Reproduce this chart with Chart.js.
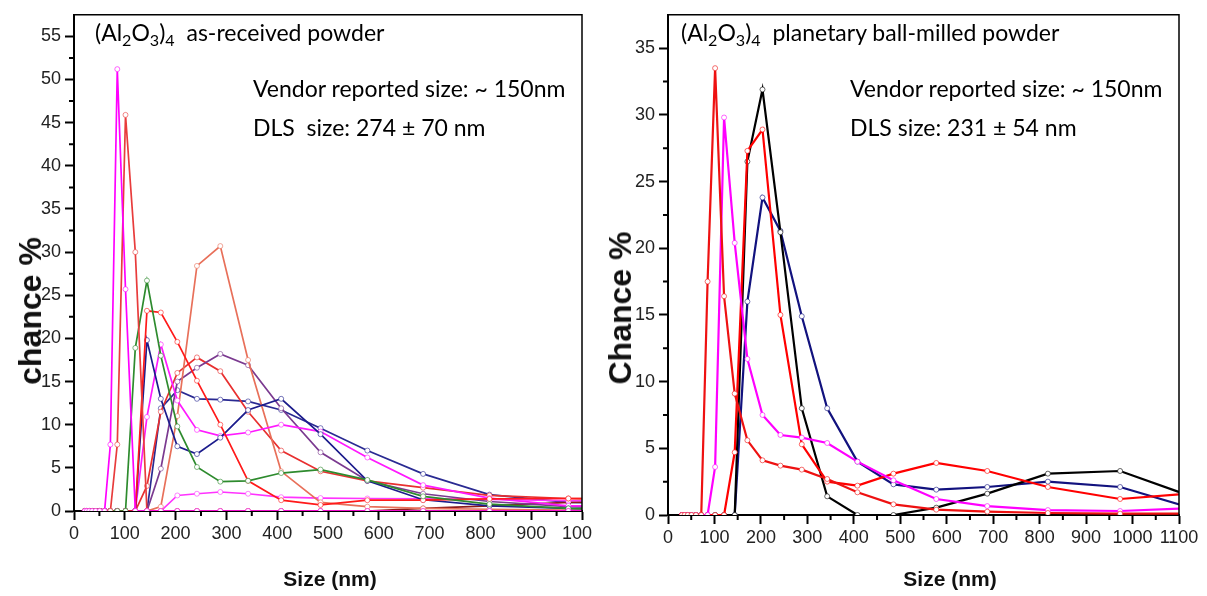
<!DOCTYPE html>
<html>
<head>
<meta charset="utf-8">
<title>DLS size distributions</title>
<script src="https://cdn.jsdelivr.net/npm/chart.js@4.4.1/dist/chart.umd.min.js"></script>
<style>
    body { margin: 0; background: #fff; width: 1207px; height: 596px; position: relative; overflow: hidden; }
    .panel { position: absolute; top: 0; height: 596px; overflow: hidden; }
    .panel > div { position: absolute; left: 0; top: 0; height: 596px; }
    #leftPanel { left: 0; width: 592px; }
    #leftPanel > div { width: 614px; }
    #rightPanel { left: 600px; width: 607px; }
    #rightPanel > div { width: 607px; }
    .note { position: absolute; font-family: Lato, "Open Sans", sans-serif; font-size: 23px; line-height: 26px; color: #000; white-space: pre; }
    .note sub { font-size: 0.7em; vertical-align: -0.3em; line-height: 0; }
    .axis-title { position: absolute; font-family: "Liberation Sans", Arial, sans-serif; font-weight: bold; color: #111; white-space: pre; line-height: 1; }
    .ytitle { font-size: 32px; transform: translate(-50%, -50%) rotate(-90deg); }
    .xtitle { font-size: 21px; transform: translate(-50%, -50%); }
</style>
</head>
<body>
<div class="panel" id="leftPanel"><div><canvas id="leftChart"></canvas></div></div>
<div class="panel" id="rightPanel"><div><canvas id="rightChart"></canvas></div></div>

<div class="note" style="left:95px; top:19px;">(Al<sub>2</sub>O<sub>3</sub>)<sub>4</sub>  as-received powder</div>
<div class="note" style="left:253px; top:75px;">Vendor reported size: ~ 150nm</div>
<div class="note" style="left:253px; top:114px;">DLS  size: 274 ± 70 nm</div>

<div class="note" style="left:681px; top:19px;">(Al<sub>2</sub>O<sub>3</sub>)<sub>4</sub>  planetary ball-milled powder</div>
<div class="note" style="left:850px; top:75px;">Vendor reported size: ~ 150nm</div>
<div class="note" style="left:850px; top:114px;">DLS size: 231 ± 54 nm</div>

<div class="axis-title ytitle" style="left:30px; top:311px;">chance %</div>
<div class="axis-title xtitle" style="left:330px; top:578px;">Size (nm)</div>
<div class="axis-title ytitle" style="left:620px; top:308px;">Chance %</div>
<div class="axis-title xtitle" style="left:950px; top:578px;">Size (nm)</div>

<script>
// Size bins (nm) shared by both DLS measurements
const sizeBins = [21.2, 25.2, 30, 35.7, 42.5, 50.6, 60.2, 71.6, 85.2, 101.4, 120.7, 143.6,
    170.9, 203.4, 242, 288, 342.7, 407.8, 485.3, 577.5, 687.2, 817.8, 973.2, 1158];

// As-received powder, chance % per bin (one array per run)
const recvMagentaTall = [0, 0, 0, 0, 0, 0, 0, 7.7, 51.2, 25.7, 0, 0, 0, 0, 0, 0, 0, 0, 0, 0, 0, 0, 0, 0];
const recvRedTall     = [0, 0, 0, 0, 0, 0, 0, 0, 7.7, 45.9, 30.0, 0, 0, 0, 0, 0, 0, 0, 0, 0, 0, 0, 0, 0];
const recvGreen       = [0, 0, 0, 0, 0, 0, 0, 0, 0, 0, 18.9, 26.7, 18, 9.8, 5.1, 3.4, 3.5, 4.4, 4.8, 3.6, 1.7, 0.8, 0.3, 0.2];
const recvRedFlat     = [0, 0, 0, 0, 0, 0, 0, 0, 0, 0, 0, 23.2, 23.0, 19.6, 15.1, 10.0, 3.5, 1.25, 0.7, 1.25, 1.25, 1.4, 1.45, 1.3];
const recvNavyDip     = [0, 0, 0, 0, 0, 0, 0, 0, 0, 0, 0, 19.8, 13.0, 7.5, 6.6, 8.5, 11.7, 13.0, 8.9, 3.5, 1.3, 0.6, 0.3, 0.2];
const recvMagenta     = [0, 0, 0, 0, 0, 0, 0, 0, 0, 0, 0, 10.9, 19.3, 12.8, 9.4, 8.7, 9.1, 10.0, 9.2, 6.2, 3.0, 1.5, 0.6, 0.5];
const recvSalmon      = [0, 0, 0, 0, 0, 0, 0, 0, 0, 0, 0, 0, 0.5, 11, 28.4, 30.7, 17.5, 4.6, 1.0, 0.5, 0.3, 0.2, 0.1, 0.1];
const recvPurple      = [0, 0, 0, 0, 0, 0, 0, 0, 0, 0, 0, 0, 4.9, 15.0, 16.6, 18.2, 16.9, 11.9, 6.8, 3.5, 2.0, 1.1, 0.5, 0.4];
const recvRedHump     = [0, 0, 0, 0, 0, 0, 0, 0, 0, 0, 0, 2.9, 11.5, 16.0, 17.8, 16.2, 11.5, 7.0, 4.6, 3.5, 2.7, 1.8, 1.45, 1.3];
const recvMagentaLow  = [0, 0, 0, 0, 0, 0, 0, 0, 0, 0, 0, 0, 0, 1.8, 2.0, 2.2, 2.0, 1.6, 1.5, 1.45, 1.4, 1.35, 1.2, 1.1];
const recvDarkRed     = [0, 0, 0, 0, 0, 0, 0, 0, 0, 0, 0, 0, 0, 0, 0, 0, 0, 0, 0, 0, 0.3, 0.6, 1.0, 1.2];
const recvNavyFlat    = [0, 0, 0, 0, 0, 0, 0, 0, 0, 0, 0, 0, 11.9, 14.0, 13.0, 12.9, 12.7, 11.7, 9.6, 7.0, 4.3, 1.9, 1.0, 0.8];

// Planetary ball-milled powder, chance % per bin
const millRed     = [null, null, 0, 0, 0, 0, 0, 0, 17.5, 33.5, 16.4, 9.1, 5.6, 4.1, 3.7, 3.4, 2.7, 1.7, 0.8, 0.4, 0.25, 0.15, 0.1, 0.1];
const millMagenta = [null, null, 0, 0, 0, 0, 0, 0, 0, 3.6, 29.8, 20.4, 11.7, 7.5, 6.0, 5.8, 5.4, 4.0, 2.6, 1.2, 0.67, 0.37, 0.3, 0.55];
const millRed2    = [null, null, 0, 0, 0, 0, 0, 0, 0, 0, 0, 4.7, 27.3, 28.9, 15.0, 5.3, 2.5, 2.2, 3.1, 3.9, 3.3, 2.1, 1.2, 1.7];
const millBlack   = [null, null, 0, 0, 0, 0, 0, 0, 0, 0, 0, 0, 26.5, 31.9, 21.2, 8.0, 1.4, 0, 0, 0.55, 1.6, 3.1, 3.3, 1.0];
const millNavy    = [null, null, 0, 0, 0, 0, 0, 0, 0, 0, 0, 0, 16.0, 23.8, 21.3, 14.9, 8.0, 4.0, 2.3, 1.9, 2.1, 2.5, 2.1, 0.2];

// Axis tick values
const leftXTicks = [0, 100, 200, 300, 400, 500, 600, 700, 800, 900, 1000];
const leftYTicks = [0, 5, 10, 15, 20, 25, 30, 35, 40, 45, 50, 55];
const rightXTicks = [0, 100, 200, 300, 400, 500, 600, 700, 800, 900, 1000, 1100];
const rightYTicks = [0, 5, 10, 15, 20, 25, 30, 35];

const tickFont = { family: "'Liberation Sans', Arial, sans-serif", size: 18 };

// Build a line dataset from one series
function makeSeries(values, color, width) {
    return {
        data: values.map((v, i) => ({ x: sizeBins[i], y: v })),
        borderColor: color,
        borderWidth: width,
        pointRadius: 2.5,
        pointBorderWidth: 1,
        pointBackgroundColor: '#ffffff',
        pointBorderColor: color + '99',
        tension: 0
    };
}

// Draw the top/right frame and the minor ticks
const framePlugin = {
    id: 'frame',
    afterDraw(chart, args, opts) {
        const ctx = chart.ctx;
        const a = chart.chartArea;
        const xs = chart.scales.x;
        const ys = chart.scales.y;
        ctx.save();
        ctx.strokeStyle = '#000';
        ctx.lineWidth = 1.5;
        ctx.beginPath();
        ctx.moveTo(a.left, a.top);
        ctx.lineTo(a.right, a.top);
        ctx.lineTo(a.right, a.bottom);
        ctx.stroke();
        ctx.lineWidth = 2;
        ctx.beginPath();
        for (let v = opts.xStep / 2; v < xs.max; v += opts.xStep) {
            const px = xs.getPixelForValue(v);
            ctx.moveTo(px, a.bottom);
            ctx.lineTo(px, a.bottom + 5);
        }
        for (let v = opts.yStep / 2; v < ys.max; v += opts.yStep) {
            const py = ys.getPixelForValue(v);
            ctx.moveTo(a.left, py);
            ctx.lineTo(a.left - 5, py);
        }
        ctx.stroke();
        ctx.restore();
    }
};

function createChart(elementId, datasets, cfg) {
    return new Chart(document.getElementById(elementId), {
        type: 'line',
        data: { datasets: datasets },
        plugins: [framePlugin],
        options: {
            responsive: true,
            maintainAspectRatio: false,
            animation: false,
            events: [],
            layout: { padding: { left: 0, top: 7, right: cfg.padRight, bottom: 0 } },
            plugins: {
                legend: { display: false },
                tooltip: { enabled: false },
                frame: { xStep: 100, yStep: 5 }
            },
            scales: {
                x: {
                    type: 'linear',
                    min: 0,
                    max: cfg.xMax,
                    afterBuildTicks: (scale) => { scale.ticks = cfg.xTicks.map(v => ({ value: v })); },
                    afterFit: (scale) => { scale.height = cfg.xHeight; scale.paddingLeft = 0; scale.paddingRight = 0; },
                    grid: { display: true, drawOnChartArea: false, drawTicks: true, tickLength: 9, tickColor: '#000', tickWidth: 2 },
                    border: { display: true, color: '#000', width: 2 },
                    ticks: { font: tickFont, color: '#222', padding: 3, maxRotation: 0, autoSkip: false, callback: (v) => String(v) }
                },
                y: {
                    min: 0,
                    max: cfg.yMax,
                    afterBuildTicks: (scale) => { scale.ticks = cfg.yTicks.map(v => ({ value: v })); },
                    afterFit: (scale) => { scale.width = cfg.yWidth; },
                    grid: { display: true, drawOnChartArea: false, drawTicks: true, tickLength: 9, tickColor: '#000', tickWidth: 2 },
                    border: { display: true, color: '#000', width: 2 },
                    ticks: { font: tickFont, color: '#222', padding: 4, callback: (v) => String(v) }
                }
            }
        }
    });
}

// As-received chart (left)
createChart('leftChart', [
    makeSeries(recvMagentaTall, '#ff00ff', 1.7),
    makeSeries(recvRedTall, '#e83c3c', 1.7),
    makeSeries(recvGreen, '#2e8b2e', 1.7),
    makeSeries(recvRedFlat, '#ff1a1a', 1.7),
    makeSeries(recvNavyDip, '#1c1c8c', 1.7),
    makeSeries(recvMagenta, '#ff1aff', 1.7),
    makeSeries(recvSalmon, '#e8705a', 1.7),
    makeSeries(recvPurple, '#7b3a90', 1.7),
    makeSeries(recvRedHump, '#e83030', 1.7),
    makeSeries(recvMagentaLow, '#ff33ff', 1.7),
    makeSeries(recvDarkRed, '#8b1a1a', 1.7),
    makeSeries(recvNavyFlat, '#2a2a92', 1.7)
], {
    xMax: 1000, yMax: 57.5, xTicks: leftXTicks, yTicks: leftYTicks,
    padRight: 32, xHeight: 85, yWidth: 74
});

// Planetary ball-milled chart (right)
createChart('rightChart', [
    makeSeries(millRed, '#ee1111', 2.2),
    makeSeries(millMagenta, '#ff00ff', 2.2),
    makeSeries(millRed2, '#ff0000', 2.2),
    makeSeries(millBlack, '#000000', 2.2),
    makeSeries(millNavy, '#12127e', 2.2)
], {
    xMax: 1100, yMax: 37.5, xTicks: rightXTicks, yTicks: rightYTicks,
    padRight: 28, xHeight: 81, yWidth: 68
});
</script>
</body>
</html>
